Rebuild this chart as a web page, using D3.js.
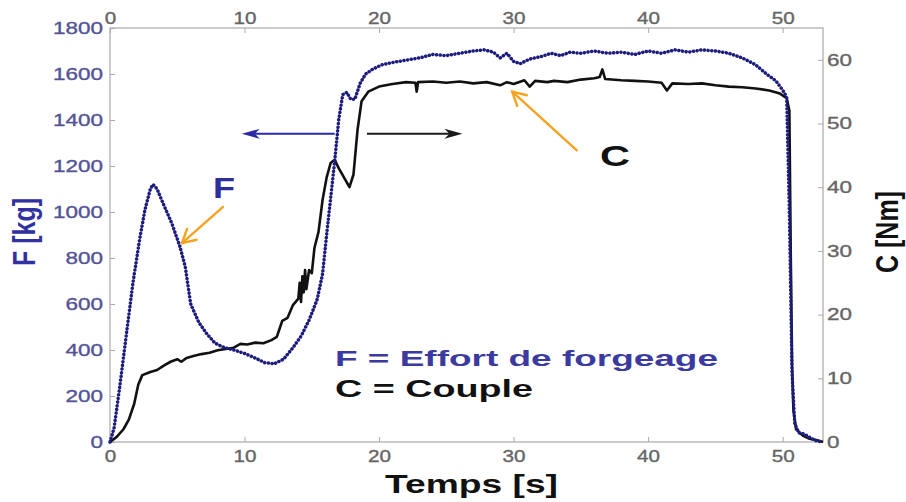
<!DOCTYPE html>
<html>
<head>
<meta charset="utf-8">
<script src="https://cdn.jsdelivr.net/npm/d3@7/dist/d3.min.js"></script>
<style>
  html, body { margin: 0; padding: 0; background: #fff; }
  svg { display: block; }
  text { font-family: "Liberation Sans", Arial, sans-serif; }
</style>
</head>
<body>
<svg id="chart" width="906" height="502"></svg>
<script>
// Forging test record: forging force F (left axis, kg) and torque C (right axis, Nm) vs time

const timeTicks = [0, 10, 20, 30, 40, 50];
const forceTicks = [0, 200, 400, 600, 800, 1000, 1200, 1400, 1600, 1800];
const torqueTicks = [0, 10, 20, 30, 40, 50, 60];

// F – effort de forgeage [kg]
const forceTime = [0, 0.3, 0.7, 1.2, 1.7, 2.2, 2.6, 3.0, 3.2, 3.5, 4.0, 4.6, 5.2, 5.6, 6.0, 6.6, 7.2, 7.8,
  8.5, 9.2, 10.0, 10.8, 11.5, 12.2, 12.9, 13.6, 14.2, 14.8, 15.4, 15.8, 16.1, 16.4, 16.7, 17.0, 17.3,
  17.6, 17.9, 18.2, 18.6, 19.0, 19.5, 20.2, 21.0, 22.0, 23.0, 24.0, 25.0, 26.0, 27.0, 27.8, 28.5, 29.0,
  29.5, 30.0, 30.5, 31.2, 32.0, 32.8, 33.5, 34.2, 35.0, 36.0, 37.0, 38.0, 39.0, 40.0, 41.0, 42.0, 43.0,
  44.0, 45.0, 46.0, 47.0, 48.0, 48.8, 49.5, 50.0, 50.3, 50.5, 50.7, 50.9, 51.2, 51.6, 52.0, 52.5, 53.0];
const forceValues = [0, 60, 230, 460, 690, 880, 1010, 1100, 1120, 1100, 1030, 950, 850, 760, 600, 520, 470, 430,
  410, 400, 385, 365, 345, 340, 360, 410, 460, 530, 620, 730, 900, 1060, 1220, 1400, 1510,
  1520, 1490, 1490, 1560, 1600, 1620, 1640, 1650, 1660, 1670, 1685, 1680, 1690, 1700, 1705, 1695, 1670,
  1690, 1655, 1645, 1665, 1675, 1690, 1680, 1695, 1690, 1700, 1690, 1695, 1685, 1700, 1690, 1705, 1695,
  1705, 1700, 1690, 1670, 1640, 1600, 1570, 1530, 1500, 1000, 300, 80, 40, 35, 20, 5, 0];

// C – couple [Nm]
const torqueTime = [0, 0.5, 1.0, 1.4, 1.8, 2.1, 2.4, 3.0, 3.5, 4.0, 4.5, 5.0, 5.3, 5.7, 6.2, 6.8, 7.4, 8.0,
  8.6, 9.2, 9.7, 10.2, 10.8, 11.4, 12.0, 12.4, 12.8, 13.2, 13.6, 14.0, 14.1, 14.2, 14.3, 14.4, 14.5,
  14.6, 14.8, 15.0, 15.2, 15.5, 15.8, 16.1, 16.4, 16.7, 17.0, 17.4, 17.8, 18.1, 18.4, 18.7, 19.2, 20.0,
  21.0, 22.0, 22.7, 22.8, 22.9, 24.0, 25.0, 26.0, 27.0, 28.0, 29.0, 29.5, 30.0, 30.8, 31.2, 31.6, 32.5,
  33.0, 34.0, 35.0, 36.0, 36.4, 36.6, 36.8, 38.0, 39.0, 40.0, 41.0, 41.4, 41.8, 43.0, 44.0, 45.0, 46.0,
  47.0, 48.0, 49.0, 49.8, 50.3, 50.5, 50.6, 50.7, 50.8, 51.0, 51.5, 52.0, 52.5, 53.0];
const torqueValues = [0, 0.8, 2, 3.5, 6, 9, 10.5, 11, 11.3, 12, 12.6, 13.0, 12.6, 13.2, 13.5, 13.8, 14.0, 14.4,
  14.6, 14.8, 15.4, 15.3, 15.6, 15.5, 16.0, 16.5, 19.0, 19.5, 21.5, 22.5, 25.0, 22.0, 26.0, 23.5, 27.0,
  24.0, 27.0, 26.5, 30.5, 33, 38, 41.5, 43.8, 44.3, 43, 41.5, 40, 42, 49, 53.5, 55, 55.8,
  56.2, 56.5, 56.4, 55, 56.5, 56.6, 56.4, 56.6, 56.3, 56.5, 56.0, 56.5, 56.2, 56.8, 55.8, 56.7, 56.5,
  56.7, 56.5, 56.9, 57.1, 57.3, 58.5, 57.0, 56.8, 56.7, 56.6, 56.4, 55.2, 56.3, 56.2, 56.3, 56.0, 55.8,
  55.7, 55.5, 55.2, 54.7, 54, 52, 30, 12, 5, 2, 1, 0.5, 0.3, 0];

const forceSeries = forceTime.map((t, i) => [t, forceValues[i]]);
const torqueSeries = torqueTime.map((t, i) => [t, torqueValues[i]]);

const svg = d3.select("#chart");
const plotLeft = 110, plotRight = 823, plotTop = 28, plotBottom = 442;

const x = d3.scaleLinear().domain([0, 53]).range([plotLeft, plotRight]);
const yF = d3.scaleLinear().domain([0, 1800]).range([plotBottom, plotTop]);
const yC = d3.scaleLinear().domain([0, 65]).range([plotBottom, plotTop]);

const frameColor = "#a9a9a9";
const tickTextGrey = "#666";
const tickTextBlue = "#535396";

// plot frame
svg.append("rect")
  .attr("x", plotLeft).attr("y", plotTop)
  .attr("width", plotRight - plotLeft).attr("height", plotBottom - plotTop)
  .attr("fill", "none").attr("stroke", frameColor).attr("stroke-width", 1.2);

function styleAxis(g, color, digitWidth) {
  g.select(".domain").remove();
  g.selectAll(".tick line").attr("stroke", frameColor).attr("stroke-width", 1);
  g.selectAll(".tick text")
    .attr("fill", color)
    .attr("font-size", 16.5)
    .attr("font-family", "'Liberation Sans', Arial, sans-serif")
    .attr("stroke", color).attr("stroke-width", 0.35)
    .attr("lengthAdjust", "spacingAndGlyphs")
    .attr("textLength", function () { return this.textContent.length * digitWidth; });
}

svg.append("g").attr("transform", `translate(0,${plotBottom})`)
  .call(d3.axisBottom(x).tickValues(timeTicks).tickSize(-5).tickPadding(8).tickFormat(d3.format("d")))
  .call(g => styleAxis(g, tickTextGrey, 11.5));

svg.append("g").attr("transform", `translate(0,${plotTop})`)
  .call(d3.axisTop(x).tickValues(timeTicks).tickSize(-5).tickPadding(4).tickFormat(d3.format("d")))
  .call(g => styleAxis(g, tickTextGrey, 11.5));

svg.append("g").attr("transform", `translate(${plotLeft},0)`)
  .call(d3.axisLeft(yF).tickValues(forceTicks).tickSize(-5).tickPadding(7).tickFormat(d3.format("d")))
  .call(g => styleAxis(g, tickTextBlue, 12.5));

svg.append("g").attr("transform", `translate(${plotRight},0)`)
  .call(d3.axisRight(yC).tickValues(torqueTicks).tickSize(-5).tickPadding(4).tickFormat(d3.format("d")))
  .call(g => styleAxis(g, tickTextGrey, 12.5));

// curves
const torqueLine = d3.line().x(d => x(d[0])).y(d => yC(d[1]));
const forceLine = d3.line().x(d => x(d[0])).y(d => yF(d[1]));

svg.append("path")
  .datum(torqueSeries)
  .attr("d", torqueLine)
  .attr("fill", "none")
  .attr("stroke", "#111")
  .attr("stroke-width", 2.6)
  .attr("stroke-linejoin", "round");

svg.append("path")
  .datum(forceSeries)
  .attr("d", forceLine)
  .attr("fill", "none")
  .attr("stroke", "#1c1c7e")
  .attr("stroke-width", 3.5)
  .attr("stroke-linecap", "round")
  .attr("stroke-dasharray", "0.1,3.6");

// axis direction arrows
function hArrow(x0, x1, yPix, color) {
  const dir = Math.sign(x1 - x0);
  svg.append("line")
    .attr("x1", x0).attr("y1", yPix).attr("x2", x1 - dir * 12).attr("y2", yPix)
    .attr("stroke", color).attr("stroke-width", 2);
  svg.append("path")
    .attr("d", `M${x1},${yPix} L${x1 - dir * 18},${yPix - 5} L${x1 - dir * 13},${yPix} L${x1 - dir * 18},${yPix + 5} Z`)
    .attr("fill", color);
}
hArrow(x(16.7), x(9.8), yF(1340), "#2a2aa6");
hArrow(x(19.1), x(26.2), yF(1340), "#1a1a1a");

// orange pointers
function pointer(x0, y0, x1, y1) {
  const a = Math.atan2(y1 - y0, x1 - x0);
  const len = 15, spread = 0.5;
  const g = svg.append("g").attr("stroke", "#f5a31f").attr("stroke-width", 2.4)
    .attr("stroke-linecap", "round").attr("fill", "none");
  g.append("line").attr("x1", x0).attr("y1", y0).attr("x2", x1).attr("y2", y1);
  g.append("path").attr("d",
    `M${x1 - len * Math.cos(a - spread)},${y1 - len * Math.sin(a - spread)} L${x1},${y1} L${x1 - len * Math.cos(a + spread)},${y1 - len * Math.sin(a + spread)}`);
}
pointer(x(8.4), yF(1022), x(5.35), yF(865));
pointer(x(34.7), yC(45.8), x(29.9), yC(55));

// labels
svg.append("text").attr("x", 213).attr("y", 198)
  .attr("font-size", 29).attr("font-weight", "bold").attr("fill", "#2d2d9e")
  .attr("textLength", 22).attr("lengthAdjust", "spacingAndGlyphs").text("F");

svg.append("text").attr("x", 600).attr("y", 166)
  .attr("font-size", 30).attr("font-weight", "bold").attr("fill", "#111")
  .attr("textLength", 30).attr("lengthAdjust", "spacingAndGlyphs").text("C");

svg.append("text").attr("x", 335).attr("y", 366)
  .attr("font-size", 22.5).attr("font-weight", "bold").attr("fill", "#3a3aa0")
  .attr("textLength", 383).attr("lengthAdjust", "spacingAndGlyphs").text("F = Effort de forgeage");

svg.append("text").attr("x", 335).attr("y", 397)
  .attr("font-size", 23.5).attr("font-weight", "bold").attr("fill", "#111")
  .attr("textLength", 198).attr("lengthAdjust", "spacingAndGlyphs").text("C = Couple");

svg.append("text").attr("x", 385).attr("y", 493)
  .attr("font-size", 25).attr("font-weight", "bold").attr("fill", "#111")
  .attr("textLength", 173).attr("lengthAdjust", "spacingAndGlyphs").text("Temps [s]");

svg.append("text")
  .attr("transform", "translate(35,232) scale(1.25,1) rotate(-90)")
  .attr("text-anchor", "middle")
  .attr("font-size", 25).attr("font-weight", "bold").attr("fill", "#3131a2")
  .text("F [kg]");

svg.append("text")
  .attr("transform", "translate(898,232) scale(1.25,1) rotate(-90)")
  .attr("text-anchor", "middle")
  .attr("font-size", 25).attr("font-weight", "bold").attr("fill", "#111")
  .text("C [Nm]");
</script>
</body>
</html>
